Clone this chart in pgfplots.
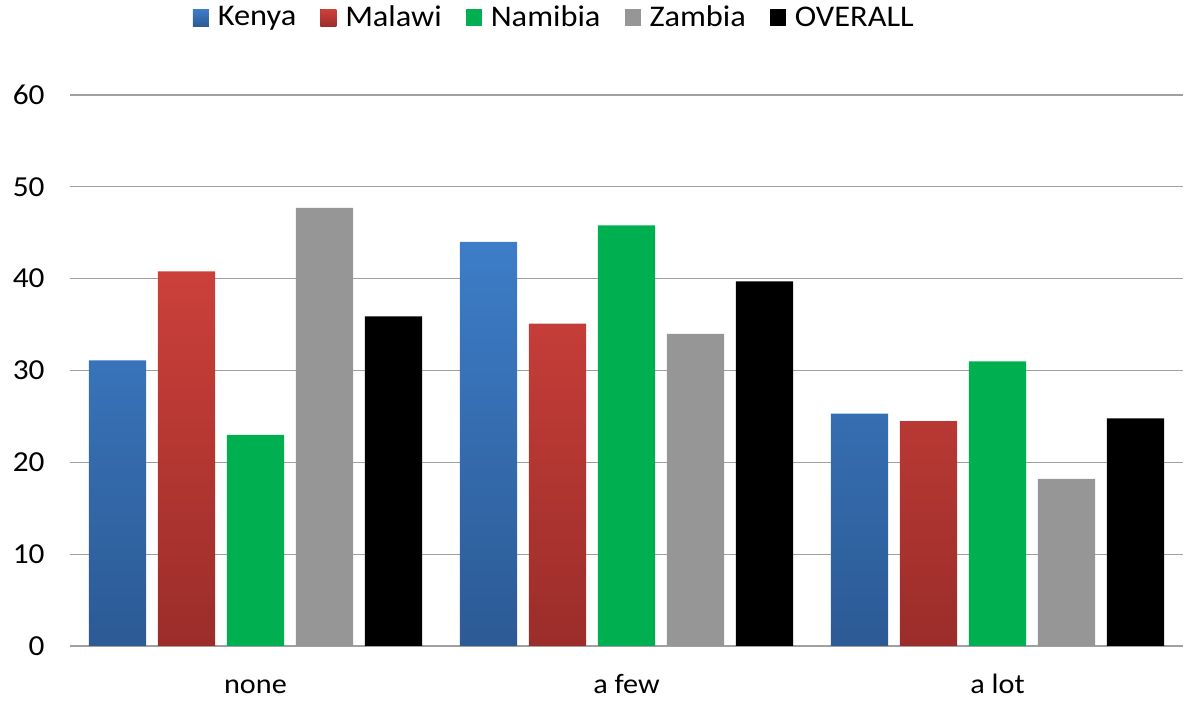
\documentclass[border=0pt]{standalone}
\usepackage{fontspec}
\setmainfont{Carlito}[FakeStretch=1.08]
\usepackage{pgfplots}
\usepackage{pgfplotstable}
\pgfplotsset{compat=1.18}

\definecolor{kenyatop}{HTML}{3D7DC8}
\definecolor{kenyabot}{HTML}{2C5A94}
\definecolor{malawitop}{HTML}{CC403A}
\definecolor{malawibot}{HTML}{9B2D2A}
\definecolor{namibia}{HTML}{00B050}
\definecolor{zambia}{HTML}{969696}
\definecolor{gridgray}{HTML}{A0A0A0}

% share of respondents per answer (0 = none, 1 = a few, 2 = a lot)
\pgfplotstableread{
x  kenya malawi namibia zambia overall
0  31.1  40.8   23.0    47.7   35.9
1  44.0  35.1   45.8    34.0   39.7
2  25.3  24.5   31.0    18.2   24.8
}\answers

\begin{document}
\begin{tikzpicture}
\useasboundingbox (-35pt,-27.5pt) rectangle (557.5pt,323pt);
\begin{axis}[
  scale only axis, width=556.5pt, height=275.5pt,
  at={(0,0)}, anchor=south west,
  xmin=-0.5, xmax=2.5, ymin=0, ymax=60,
  xtick={0,1,2}, xticklabels={none,a few,a lot},
  ytick={0,10,...,60},
  axis line style={draw=none},
  major tick length=0pt,
  ymajorgrids, grid style={gridgray, line width=0.6pt},
  /pgf/number format/assume math mode=true,
  tick label style={inner sep=0pt},
  yticklabel style={anchor=east, xshift=-12.5pt, font=\fontsize{14.5}{17}\selectfont},
  xticklabel style={anchor=base, yshift=-24pt, font=\fontsize{14}{17}\selectfont},
  bar width=0.154,
  legend columns=5,
  legend style={at={(0.436,1.14)}, anchor=center, draw=none, fill=none,
    font=\fontsize{15}{18}\selectfont,
    nodes={inner sep=2pt},
    /tikz/every odd column/.append style={column sep=2.5pt},
    /tikz/every even column/.append style={column sep=10pt}},
  legend image code/.code={\fill[#1] (0pt,-4.2pt) rectangle (8pt,4.2pt);},
]
\addplot[ybar, bar shift=-0.372, draw=none, top color=kenyatop, bottom color=kenyabot]
  table[x=x, y=kenya] {\answers};
\addplot[ybar, bar shift=-0.186, draw=none, top color=malawitop, bottom color=malawibot]
  table[x=x, y=malawi] {\answers};
\addplot[ybar, bar shift=0, draw=none, fill=namibia]
  table[x=x, y=namibia] {\answers};
\addplot[ybar, bar shift=0.186, draw=none, fill=zambia]
  table[x=x, y=zambia] {\answers};
\addplot[ybar, bar shift=0.372, draw=none, fill=black]
  table[x=x, y=overall] {\answers};
\legend{Kenya, Malawi, Namibia, Zambia, OVERALL}
\end{axis}
\end{tikzpicture}
\end{document}
